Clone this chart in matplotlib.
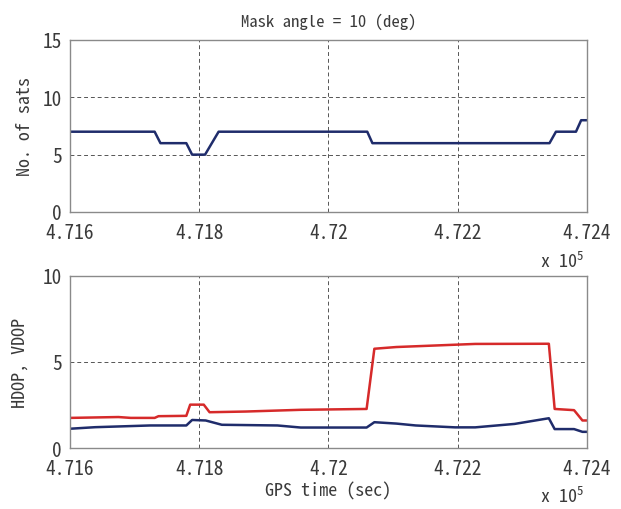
import matplotlib
matplotlib.use("Agg")
import matplotlib.pyplot as plt
from matplotlib.ticker import FuncFormatter

plt.rcParams['font.family'] = ['Noto Sans Mono CJK JP', 'Noto Sans CJK JP', 'DejaVu Sans']
plt.rcParams['mathtext.default'] = 'regular'

# number of satellites in view (GPS time in seconds)
sat_time = [471600, 471731, 471740, 471780, 471789, 471809, 471830,
            472060, 472068, 472342, 472352, 472383, 472391, 472400]
sat_count = [7, 7, 6, 6, 5, 5, 7, 7, 6, 6, 7, 7, 8, 8]

# VDOP (red)
vdop_time = [471600, 471675, 471694, 471731, 471737, 471780, 471786, 471807,
             471816, 471872, 471957, 472059, 472071, 472105, 472166, 472227,
             472341, 472350, 472380, 472393, 472400]
vdop = [1.75, 1.8, 1.75, 1.75, 1.85, 1.87, 2.52, 2.52, 2.08, 2.12, 2.22,
        2.27, 5.77, 5.87, 5.96, 6.05, 6.06, 2.27, 2.2, 1.6, 1.6]

# HDOP (blue)
hdop_time = [471600, 471639, 471724, 471780, 471789, 471810, 471835, 471921,
             471957, 472059, 472071, 472105, 472135, 472196, 472227, 472288,
             472341, 472350, 472380, 472393, 472400]
hdop = [1.12, 1.21, 1.31, 1.31, 1.63, 1.6, 1.35, 1.31, 1.19, 1.19, 1.5,
        1.42, 1.31, 1.2, 1.2, 1.4, 1.73, 1.1, 1.1, 0.94, 0.94]

xticks = [4.716, 4.718, 4.72, 4.722, 4.724]
navy = '#1f2c6b'
red = '#d62a2a'
frame = '#8a8a8a'
txt = '#3a3a3a'

fig = plt.figure(figsize=(6.21, 5.10), dpi=100)
ax1 = fig.add_axes([0.1127, 0.5824, 0.8325, 0.3373])
ax2 = fig.add_axes([0.1127, 0.1196, 0.8325, 0.3373])

fmt = FuncFormatter(lambda v, p: '%g' % v)

for ax in (ax1, ax2):
    ax.set_xlim(4.716, 4.724)
    ax.set_xticks(xticks)
    ax.xaxis.set_major_formatter(fmt)
    ax.grid(True, color='#555555', linestyle=(0, (4, 3)), linewidth=0.7)
    ax.tick_params(length=0, labelsize=14, colors=txt)
    ax.tick_params(axis='x', pad=8)
    ax.tick_params(axis='y', pad=6)
    for s in ax.spines.values():
        s.set_color(frame)
        s.set_linewidth(1.0)

ax1.plot([t / 1e5 for t in sat_time], sat_count, color=navy, lw=1.8)
ax1.set_ylim(0, 15)
ax1.set_yticks([0, 5, 10, 15])
ax1.set_ylabel('No. of sats', fontsize=13, color=txt, labelpad=6)
ax1.set_title('Mask angle = 10 (deg)', fontsize=12, color=txt, pad=10)

ax2.plot([t / 1e5 for t in vdop_time], vdop, color=red, lw=1.8)
ax2.plot([t / 1e5 for t in hdop_time], hdop, color=navy, lw=1.8)
ax2.set_ylim(0, 10)
ax2.set_yticks([0, 5, 10])
ax2.set_ylabel('HDOP, VDOP', fontsize=13, color=txt, labelpad=10)
ax2.set_xlabel('GPS time (sec)', fontsize=13, color=txt, labelpad=2)

for y in (1 - 262 / 510, 1 - 497 / 510):
    fig.text(562 / 621, y, r'x 10$^5$', fontsize=13, color=txt,
             ha='center', va='center')

plt.savefig('out.png', dpi=100)
